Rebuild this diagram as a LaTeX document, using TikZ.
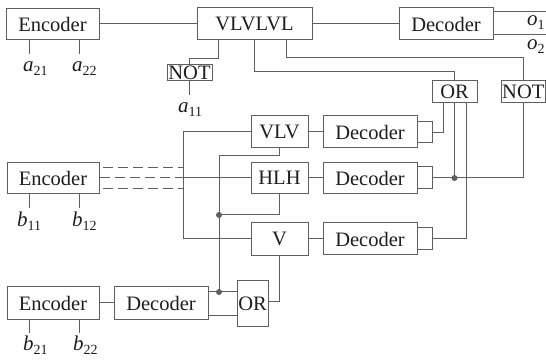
\documentclass[tikz,border=0pt]{standalone}
\usepackage{fontspec}
\setmainfont{Liberation Serif}
\definecolor{ln}{RGB}{95,95,95}
\definecolor{txt}{RGB}{30,30,30}
\newcommand\lab[2]{\textit{#1}\raisebox{-4pt}{\fontsize{14}{14}\selectfont #2}}
\begin{document}
\begin{tikzpicture}[x=1pt,y=-1pt,
  every node/.style={font=\fontsize{20.5}{22}\selectfont, text=txt},
  box/.style={draw=ln, line width=1pt, inner sep=0pt, fill=white},
  wire/.style={draw=ln, line width=1pt},
  dsh/.style={draw=ln, line width=1pt, dash pattern=on 10pt off 5pt},
  lbl/.style={anchor=base west, inner sep=0pt, font=\fontsize{21}{22}\selectfont}]
\useasboundingbox (0,0) rectangle (546,363);
% top row
\node[box,minimum width=93pt,minimum height=31pt] (enc1) at (52.5,24) {Encoder};
\node[box,minimum width=115pt,minimum height=32pt] (vl6) at (254.5,24) {VLVLVL};
\node[box,minimum width=94pt,minimum height=32pt] (dec0) at (446,24) {Decoder};
\node[box,minimum width=45pt,minimum height=16pt] (not1) at (189.5,73) {NOT};
\node[box,minimum width=45pt,minimum height=22pt] (or1) at (454.5,92) {OR};
\node[box,minimum width=44pt,minimum height=22pt] (not2) at (523.3,92) {NOT};
% middle
\node[box,minimum width=57pt,minimum height=32pt] (vlv) at (279.5,132) {VLV};
\node[box,minimum width=57pt,minimum height=31pt] (hlh) at (279.5,178) {HLH};
\node[box,minimum width=57pt,minimum height=33pt] (vv) at (279.5,239) {V};
\node[box,minimum width=94pt,minimum height=32pt] (decA) at (370,132) {Decoder};
\node[box,minimum width=94pt,minimum height=31pt] (decB) at (370,178) {Decoder};
\node[box,minimum width=94pt,minimum height=32pt] (decC) at (370,239) {Decoder};
\node[box,minimum width=15pt,minimum height=21pt] (sA) at (424.5,132.5) {};
\node[box,minimum width=15pt,minimum height=22pt] (sB) at (424.5,178) {};
\node[box,minimum width=15pt,minimum height=22pt] (sC) at (424.5,238.5) {};
\node[box,minimum width=92pt,minimum height=31pt] (enc2) at (53,178) {Encoder};
% bottom
\node[box,minimum width=92pt,minimum height=32pt] (enc3) at (53,303) {Encoder};
\node[box,minimum width=94pt,minimum height=32pt] (dec3) at (161,303) {Decoder};
\node[box,minimum width=31pt,minimum height=46pt] (or2) at (252.5,303.5) {OR};
% labels
\node[lbl] (la21) at (23,72) {\lab{a}{21}};
\node[lbl] (la22) at (72,72) {\lab{a}{22}};
\node[lbl] (la11) at (178,113) {\lab{a}{11}};
\node[lbl] (lb11) at (17,227) {\lab{b}{11}};
\node[lbl] (lb12) at (72,227) {\lab{b}{12}};
\node[lbl] (lb21) at (23,350) {\lab{b}{21}};
\node[lbl] (lb22) at (73,350) {\lab{b}{22}};
\node[lbl] (lo1) at (527,26) {\lab{o}{1}};
\node[lbl] (lo2) at (527,50) {\lab{o}{2}};
% coordinates
\coordinate (o1e) at (546,12);
\coordinate (o2e) at (546,35);
\coordinate (ax) at (183,0);
\coordinate (jlow) at (219,292);
\coordinate (jmid) at (219,215);
\coordinate (d1) at ([xshift=3.5pt,yshift=10.5pt]enc2.east);
\coordinate (d3) at ([xshift=3.5pt,yshift=-10.5pt]enc2.east);
\coordinate (p315) at ([yshift=-12pt]dec3.east);
\coordinate (jr) at (or1.south |- sB.east);
% top wires
\draw[wire] (enc1) -- (vl6);
\draw[wire] (vl6) -- (dec0);
\draw[wire] (dec0.east |- o1e) -- (o1e);
\draw[wire] (dec0.east |- o2e) -- (o2e);
\draw[wire] ([xshift=-23.5pt]enc1.south) -- ++(0,14);
\draw[wire] ([xshift=26.5pt]enc1.south) -- ++(0,14);
\draw[wire] ([xshift=-36.5pt]vl6.south) -- ++(0,18) -| (not1.north);
\draw[wire] (vl6.south) -- ++(0,31) -| (or1.north);
\draw[wire] ([xshift=31.5pt]vl6.south) -- ++(0,17) -| (not2.north);
\draw[wire] (not1.south) -- ++(0,14);
% right side
\draw[wire] ([xshift=-11.5pt]or1.south) |- (sA.east);
\draw[wire] (or1.south) -- (jr);
\draw[wire] (not2.south) |- (sB.east);
\draw[wire] ([xshift=11.5pt]or1.south) |- (sC.east);
\fill[ln] (jr) circle (3pt);
\draw[wire] (vlv) -- (decA);
\draw[wire] (hlh) -- (decB);
\draw[wire] (vv) -- (decC);
% left side
\draw[wire] (vlv.west) -- (vlv.west -| ax) -- (vv.west -| ax) -- (vv.west);
\draw[wire] (enc2.east -| ax) -- (hlh.west);
\draw[dsh] (enc2.east) -- (enc2.east -| ax);
\draw[dsh] (d1) -- (d1 -| ax);
\draw[dsh] (d3) -- (d3 -| ax);
\draw[wire] ([xshift=-23.5pt]enc2.south) -- ++(0,14);
\draw[wire] ([xshift=26.5pt]enc2.south) -- ++(0,14);
\draw[wire] (vlv.south) -- ++(0,7) -| (jlow);
\draw[wire] (hlh.south) |- (jmid);
\fill[ln] (jmid) circle (3pt);
\fill[ln] (jlow) circle (3pt);
% bottom
\draw[wire] (enc3) -- (dec3);
\draw[wire] ([xshift=-23.5pt]enc3.south) -- ++(0,13);
\draw[wire] ([xshift=26.5pt]enc3.south) -- ++(0,13);
\draw[wire] (dec3.east |- jlow) -- (or2.west |- jlow);
\draw[wire] (p315) -- (p315 -| or2.west);
\draw[wire] ([yshift=2pt]or2.east) -| (vv.south);
\end{tikzpicture}
\end{document}
